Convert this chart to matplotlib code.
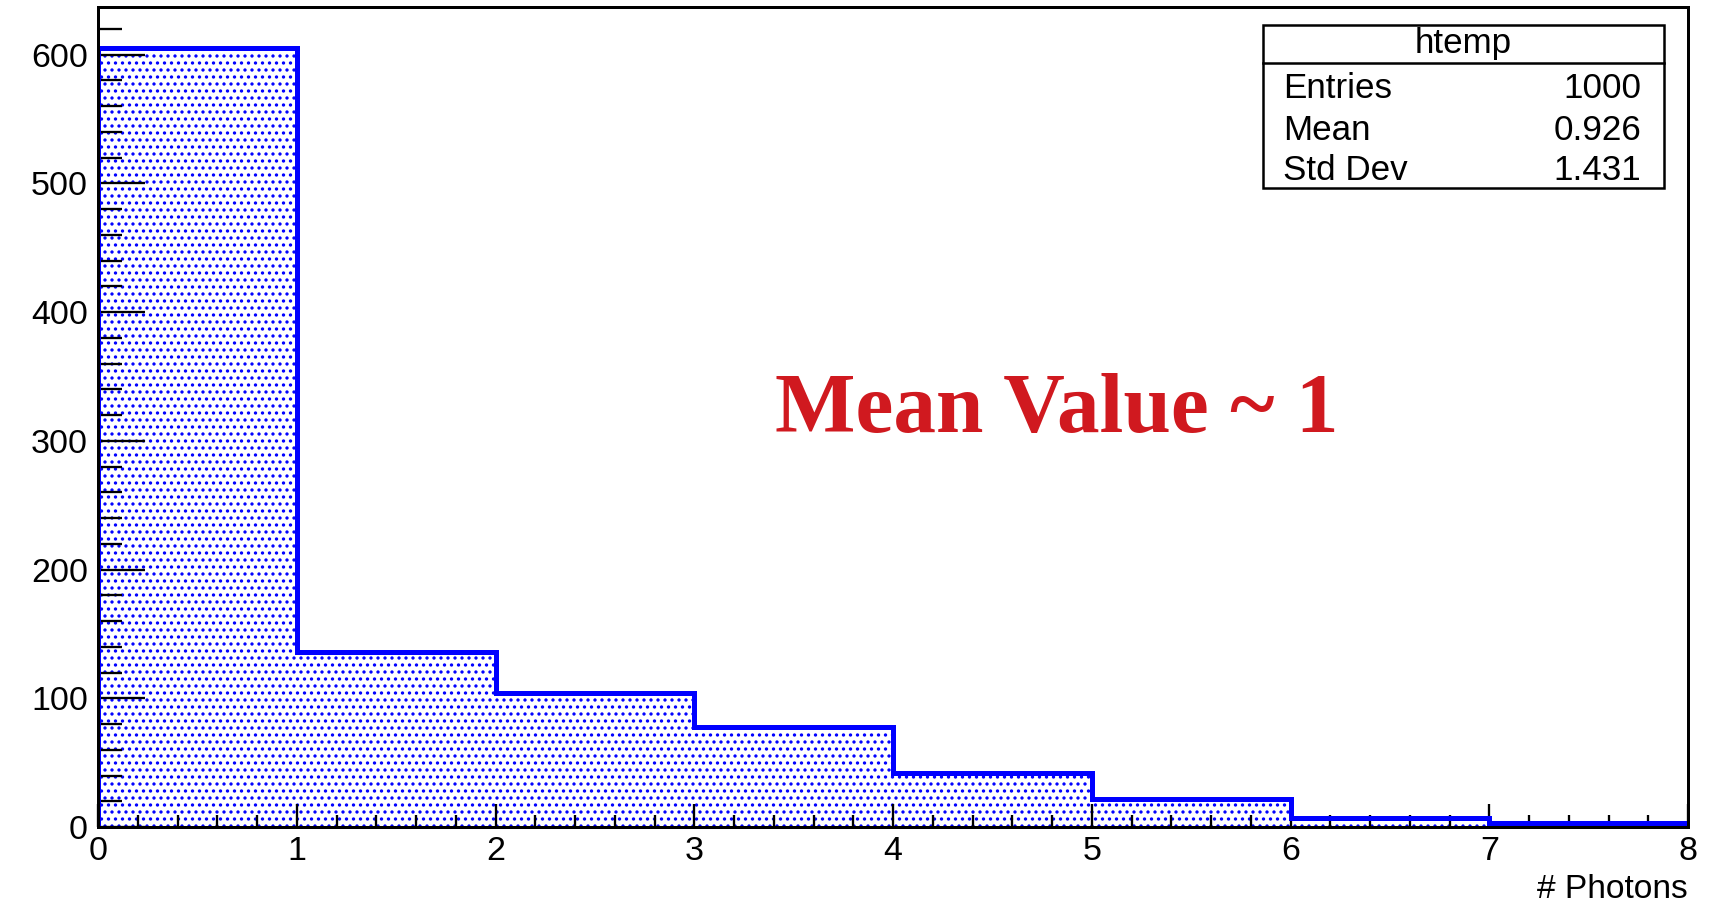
import matplotlib
matplotlib.use("Agg")
import matplotlib.pyplot as plt
from matplotlib.patches import Rectangle
from matplotlib.lines import Line2D
from matplotlib.ticker import MultipleLocator

# ---- data ----
bin_edges = [0, 1, 2, 3, 4, 5, 6, 7, 8]
counts = [605, 136, 104, 78, 42, 22, 7, 3]
x_label = "# Photons"
stats_title = "htemp"
stats_names = ["Entries", "Mean", "Std Dev"]
stats_values = ["1000", "0.926", "1.431"]
annotation = "Mean Value ~ 1"

W, H, DPI = 1729, 903, 84
def pt(px):
    return px * 72.0 / DPI
def fx(x):
    return x / W
def fy(y):
    return 1 - y / H

plt.rcParams['font.family'] = ['Liberation Sans', 'DejaVu Sans']
plt.rcParams['hatch.linewidth'] = pt(1.9)

fig = plt.figure(figsize=(W / DPI, H / DPI), dpi=DPI)
ax = fig.add_axes([fx(98), fy(827), fx(1688) - fx(98), fy(7) - fy(827)])

ax.stairs(counts, bin_edges, fill=True, facecolor='white', edgecolor='blue',
          hatch='..', linewidth=0, zorder=1)
ax.stairs(counts, bin_edges, fill=False, edgecolor='blue', linewidth=pt(5), zorder=2)

ax.set_xlim(0, 8)
ax.set_ylim(0, 637)
ax.xaxis.set_major_locator(MultipleLocator(1))
ax.xaxis.set_minor_locator(MultipleLocator(0.2))
ax.yaxis.set_major_locator(MultipleLocator(100))
ax.yaxis.set_minor_locator(MultipleLocator(20))

ax.tick_params(axis='both', which='both', direction='in', color='black',
               width=pt(2.3), labelsize=pt(34), top=False, right=False)
ax.tick_params(axis='x', which='major', length=pt(23), pad=pt(9))
ax.tick_params(axis='x', which='minor', length=pt(12))
ax.tick_params(axis='y', which='major', length=pt(47), pad=pt(10))
ax.tick_params(axis='y', which='minor', length=pt(24))
for t in ax.get_xticklabels() + ax.get_yticklabels():
    t.set_zorder(5)
for s in ax.spines.values():
    s.set_linewidth(pt(3))
    s.set_zorder(6)

fig.text(fx(1688), fy(889), x_label, ha='right', va='center', fontsize=pt(33.5))

# annotation
fig.text(fx(775), fy(432), annotation, ha='left', va='baseline',
         fontsize=pt(85.3), fontweight='bold', color='#D0191F',
         family=['Liberation Serif', 'DejaVu Serif'])

# stats box
bx0, bx1, by0, by1, bsep = 1263, 1664, 25, 188, 63
fig.add_artist(Rectangle((fx(bx0), fy(by1)), fx(bx1) - fx(bx0), fy(by0) - fy(by1),
                         transform=fig.transFigure, facecolor='white',
                         edgecolor='black', linewidth=pt(2.5), zorder=10))
fig.add_artist(Line2D([fx(bx0), fx(bx1)], [fy(bsep), fy(bsep)],
                      transform=fig.transFigure, color='black',
                      linewidth=pt(2.5), zorder=11))
fig.text(fx((bx0 + bx1) / 2), fy(44), stats_title, ha='center', va='center',
         fontsize=pt(35), zorder=12)
row_y = [89, 130, 171]
for name, val, yy in zip(stats_names, stats_values, row_y):
    fig.text(fx(1283), fy(yy), name, ha='left', va='center', fontsize=pt(35), zorder=12)
    fig.text(fx(1641), fy(yy), val, ha='right', va='center', fontsize=pt(35), zorder=12)

fig.savefig("out.png", dpi=DPI)
